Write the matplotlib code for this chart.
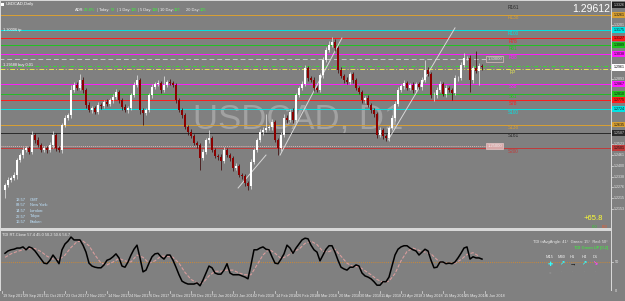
import numpy as np
import matplotlib.pyplot as plt
from matplotlib.patches import Rectangle
from matplotlib.transforms import blended_transform_factory

plt.rcParams['font.family'] = ['Liberation Sans', 'DejaVu Sans']

W, H = 625, 301
BG = '#808080'
X_SCALE = 611  # where the price scale starts

# USDCAD daily
first_open = 1.2261
closes = [
    1.2290, 1.2319, 1.2330, 1.2347, 1.2433, 1.2461, 1.2490, 1.2501, 1.2479, 1.2576,
    1.2547, 1.2518, 1.2490, 1.2501, 1.2490, 1.2518, 1.2576, 1.2501, 1.2490, 1.2633,
    1.2673, 1.2690, 1.2833, 1.2861, 1.2844, 1.2890, 1.2833, 1.2747, 1.2718, 1.2730,
    1.2707, 1.2747, 1.2741, 1.2764, 1.2753, 1.2775, 1.2793, 1.2821, 1.2775, 1.2735,
    1.2718, 1.2730, 1.2804, 1.2861, 1.2890, 1.2718, 1.2701, 1.2718, 1.2804, 1.2850,
    1.2867, 1.2872, 1.2833, 1.2861, 1.2878, 1.2872, 1.2861, 1.2775, 1.2718, 1.2690,
    1.2621, 1.2593, 1.2570, 1.2530, 1.2518, 1.2444, 1.2479, 1.2547, 1.2558, 1.2490,
    1.2456, 1.2450, 1.2427, 1.2490, 1.2461, 1.2444, 1.2387, 1.2399, 1.2347, 1.2341,
    1.2301, 1.2284, 1.2421, 1.2490, 1.2547, 1.2593, 1.2604, 1.2616, 1.2621, 1.2650,
    1.2547, 1.2501, 1.2576, 1.2673, 1.2661, 1.2707, 1.2661, 1.2804, 1.2844, 1.2867,
    1.2958, 1.2901, 1.2890, 1.2844, 1.2833, 1.2918, 1.3004, 1.3061, 1.3089, 1.3107,
    1.3072, 1.2947, 1.2912, 1.2890, 1.2878, 1.2924, 1.2890, 1.2844, 1.2821, 1.2775,
    1.2787, 1.2747, 1.2718, 1.2696, 1.2576, 1.2604, 1.2570, 1.2558, 1.2616, 1.2673,
    1.2753, 1.2833, 1.2855, 1.2872, 1.2844, 1.2861, 1.2833, 1.2867, 1.2850, 1.2890,
    1.2947, 1.2924, 1.2804, 1.2804, 1.2833, 1.2867, 1.2810, 1.2844, 1.2833, 1.2815,
    1.2901, 1.2901, 1.2975, 1.3015, 1.3015, 1.2890, 1.2958, 1.2941, 1.2970, 1.2961,
]
# wicks beyond the body, in pips
up_wick = [
    10, 14, 12, 18, 10, 12, 16, 10, 14, 25, 12, 15, 10, 14, 12, 16, 20, 12, 10, 12,
    14, 12, 30, 16, 18, 35, 14, 12, 16, 10, 12, 18, 14, 10, 16, 12, 14, 18, 12, 10,
    16, 12, 14, 18, 30, 12, 10, 14, 12, 16, 12, 18, 14, 50, 12, 16, 14, 10, 12, 14,
    12, 10, 16, 12, 14, 12, 18, 14, 45, 12, 14, 10, 16, 18, 14, 12, 10, 14, 12, 10,
    12, 14, 16, 12, 14, 18, 20, 80, 14, 16, 12, 14, 16, 20, 14, 18, 20, 14, 12, 16,
    20, 14, 12, 16, 14, 12, 18, 16, 25, 30, 16, 12, 14, 10, 18, 12, 14, 10, 12, 14,
    12, 16, 10, 14, 12, 16, 10, 14, 12, 16, 14, 18, 12, 16, 14, 12, 18, 14, 12, 16,
    55, 14, 12, 16, 14, 18, 12, 16, 14, 12, 16, 14, 18, 30, 14, 20, 14, 100, 16, 12,
]
dn_wick = [
    45, 12, 14, 10, 20, 12, 16, 14, 10, 14, 16, 12, 14, 10, 18, 12, 14, 16, 12, 15,
    12, 14, 16, 12, 10, 14, 18, 16, 12, 14, 14, 12, 16, 10, 14, 12, 16, 12, 14, 18,
    12, 16, 14, 10, 12, 20, 70, 14, 12, 16, 14, 12, 16, 14, 12, 10, 14, 16, 12, 18,
    14, 16, 12, 14, 16, 70, 14, 12, 16, 14, 12, 16, 50, 14, 12, 18, 16, 14, 12, 16,
    14, 20, 16, 12, 14, 10, 16, 14, 12, 16, 14, 40, 16, 12, 18, 14, 16, 12, 14, 12,
    14, 16, 12, 18, 14, 12, 16, 14, 12, 10, 14, 16, 12, 18, 14, 12, 16, 14, 12, 14,
    16, 12, 14, 18, 16, 14, 20, 16, 14, 12, 16, 14, 12, 18, 14, 12, 16, 14, 12, 16,
    14, 12, 18, 35, 16, 12, 14, 16, 14, 40, 12, 16, 14, 12, 14, 70, 16, 14, 80, 12,
]

# TDI sub window
tdi_rsi = [
    65, 69, 71, 72, 74, 74, 76, 71, 76, 74, 69, 62, 55, 48, 47, 53, 62, 55, 47, 71,
    81, 86, 93, 88, 88, 88, 79, 67, 48, 43, 41, 40, 40, 45, 53, 55, 59, 64, 57, 43,
    41, 50, 62, 72, 79, 57, 33, 36, 48, 59, 64, 65, 59, 55, 62, 62, 53, 41, 28, 17,
    14, 12, 12, 12, 14, 9, 19, 31, 43, 40, 31, 29, 29, 36, 47, 31, 28, 28, 28, 26,
    24, 21, 45, 71, 71, 74, 76, 72, 71, 59, 48, 47, 55, 64, 79, 74, 65, 74, 81, 88,
    91, 90, 79, 71, 67, 52, 62, 72, 78, 78, 67, 53, 41, 38, 36, 41, 41, 45, 43, 31,
    26, 24, 21, 16, 10, 10, 16, 16, 24, 43, 62, 72, 76, 78, 78, 74, 71, 69, 62, 67,
    72, 69, 53, 40, 41, 50, 50, 47, 48, 47, 50, 57, 65, 74, 76, 55, 59, 57, 57, 55,
]
# signal line, one value every second bar
tdi_signal = [
    58, 64, 68, 71, 73, 73, 68, 60, 55, 54, 62, 75, 85, 86, 78, 62, 48, 45, 50, 56,
    52, 50, 62, 58, 48, 52, 60, 60, 58, 48, 32, 20, 14, 14, 26, 34, 34, 36, 36, 31,
    28, 28, 45, 62, 72, 65, 56, 60, 68, 72, 82, 86, 80, 68, 68, 72, 60, 48, 42, 42,
    35, 28, 20, 15, 17, 30, 52, 68, 74, 70, 67, 64, 54, 48, 48, 48, 54, 63, 66, 60,
]

date_labels = [
    '19 Sep 2017', '29 Sep 2017', '11 Oct 2017', '23 Oct 2017', '2 Nov 2017',
    '14 Nov 2017', '24 Nov 2017', '6 Dec 2017', '18 Dec 2017', '29 Dec 2017',
    '11 Jan 2018', '23 Jan 2018', '2 Feb 2018', '14 Feb 2018', '26 Feb 2018',
    '8 Mar 2018', '20 Mar 2018', '30 Mar 2018', '11 Apr 2018', '23 Apr 2018',
    '3 May 2018', '15 May 2018', '25 May 2018', '6 Jun 2018',
]

# pivot levels
level_names = ['R138', 'R100', 'R78', 'R61', 'R38', 'PP', 'S38', 'S61', 'S78',
               'S100', 'S138', 'S161', 'S200']
level_prices = [1.3261, 1.3175, 1.3127, 1.3089, 1.3038, 1.2952, 1.2867, 1.2810,
                1.2775, 1.2724, 1.2635, 1.2587, 1.2501]
level_colors = ['#d9a032', '#00e5e5', '#ff1a1a', '#1fc41f', '#ff1aff', '#e6e64d',
                '#ff1aff', '#1fc41f', '#ff1a1a', '#00e5e5', '#d9a032', '#2a2a2a',
                '#c03a3a']

tick_prices = [1.3201, 1.2893, 1.2523, 1.2461, 1.2400, 1.2338, 1.2276, 1.2215,
               1.2153]

# trend lines (bar index, price)
trend_lines = [
    ([77.7, 87.0], [1.2273, 1.2461]),
    ([91.7, 112.3], [1.2461, 1.3129]),
    ([127.7, 150.0], [1.2547, 1.3187]),
]

fig = plt.figure(figsize=(W / 100, H / 100), dpi=100, facecolor=BG)


def box(x0, y0, x1, y1):
    return [x0 / W, 1 - y1 / H, (x1 - x0) / W, (y1 - y0) / H]


def fx(x):
    return x / W


def fy(y):
    return 1 - y / H


# ---- main window
ax = fig.add_axes(box(0, 1, X_SCALE, 228))
ax.set_facecolor(BG)
ax.set_xlim(-5 / 3, (X_SCALE - 5) / 3)
ax.set_ylim(1.20445, 1.33407)
ax.axis('off')

ax.text(fx(298), fy(119), 'USDCAD, D1', transform=fig.transFigure, fontsize=25,
        color='#a2a2a2', ha='center', va='center', zorder=0)

for name, p, c in zip(level_names, level_prices, level_colors):
    if name == 'PP':
        ax.axhline(p, color=c, lw=0.7, ls=(0, (5, 2, 1, 2)), zorder=1)
    else:
        ax.axhline(p, color=c, lw=0.7, zorder=1)
    ax.annotate(name, (513 / X_SCALE, p), xycoords=ax.get_yaxis_transform(),
                xytext=(0, -3), textcoords='offset pixels', fontsize=3.4,
                color=c, ha='center', va='center')
ax.text(513 / X_SCALE, 1.3301, 'R161', transform=ax.get_yaxis_transform(),
        fontsize=3.4, color='#2a2a2a', ha='center', va='center')

ax.axhline(1.2970, color='#33dd33', lw=0.7, ls=(0, (4, 2, 1, 2)), zorder=1)
ax.hlines(1.3010, -2, 161, color='#c8c8c8', lw=0.7, ls=(0, (5, 3)), zorder=1)
ax.hlines(1.2513, -2, 161, color='#e0b0b0', lw=0.7, ls=(0, (1, 1)), zorder=1)
ax.text(163.2, 1.3010, '1.30000', fontsize=3.0, color='#e8e8e8', ha='center',
        va='center', bbox=dict(boxstyle='square,pad=0.25', fc=BG, ec='#e0c0c0', lw=0.5))
ax.text(163.2, 1.2513, '1.25000', fontsize=3.0, color='#f0f0f0', ha='center',
        va='center', bbox=dict(boxstyle='square,pad=0.25', fc='#d8a8a8', ec='#e8c8c8', lw=0.5))

for xs, ps in trend_lines:
    ax.plot(xs, ps, color='#d8d8d8', lw=0.7, zorder=2)

opens = [first_open] + closes[:-1]
for i, (o, c) in enumerate(zip(opens, closes)):
    hi = max(o, c) + up_wick[i] * 0.0001
    lo = min(o, c) - dn_wick[i] * 0.0001
    bull = c >= o
    wick_c = '#e8e8e8' if bull else '#3a0000'
    body_c = '#ffffff' if bull else '#8b0000'
    ax.vlines(i, lo, hi, color=wick_c, lw=0.5, zorder=3)
    ax.bar(i, max(abs(c - o), 0.0001), bottom=min(o, c), width=0.55,
           color=body_c, lw=0, zorder=4)

# ---- price scale strip
axr = fig.add_axes(box(X_SCALE, 1, 625, 228))
axr.set_facecolor(BG)
axr.set_xlim(0, 1)
axr.set_ylim(ax.get_ylim())
axr.axis('off')
for t in tick_prices:
    axr.plot([0, 0.15], [t, t], color='#e0e0e0', lw=0.5)
    axr.text(0.2, t, f'{t:.4f}', fontsize=2.6, color='#e8e8e8', va='center',
             clip_on=True)
tag_h = 0.0032
for name, p, c in zip(level_names, level_prices, level_colors):
    if name == 'PP':
        continue  # hidden under the bid tag
    axr.add_patch(Rectangle((0.08, p - tag_h / 2), 0.92, tag_h, fc=c, ec='none'))
    axr.text(0.2, p, f'{p:.4f}', fontsize=2.6, va='center', clip_on=True,
             color='#101010' if c != '#2a2a2a' else '#d0d0d0')
axr.add_patch(Rectangle((0.08, 1.2958 - tag_h / 2), 0.92, tag_h * 1.3, fc='white', ec='none'))
axr.text(0.2, 1.2961, '1.2961', fontsize=2.6, color='black', va='center', clip_on=True)
axr.add_patch(Rectangle((0.08, 1.3318 - tag_h / 2), 0.92, tag_h, fc='#202020', ec='none'))
axr.text(0.2, 1.3318, '1.3326', fontsize=2.6, color='#d0d0d0', va='center', clip_on=True)

# ---- TDI window
axs = fig.add_axes(box(0, 231, X_SCALE, 291))
axs.set_facecolor(BG)
axs.set_xlim(ax.get_xlim())
axs.set_ylim(0, 103.4)
axs.axis('off')
axs.axhline(50, color='#e08a20', lw=0.6, ls=(0, (1, 1.5)))
axs.plot(range(0, len(closes), 2), tdi_signal, color='#d89c9c', lw=0.8, ls=(0, (3, 1.5)))
axs.plot(range(len(tdi_rsi)), tdi_rsi, color='black', lw=1.1)

axs2 = fig.add_axes(box(X_SCALE, 231, 625, 291))
axs2.set_facecolor(BG)
axs2.set_xlim(0, 1)
axs2.set_ylim(0, 103.4)
axs2.axis('off')
for v in [50, 0]:
    axs2.plot([0, 0.15], [v, v], color='#e0e0e0', lw=0.5)
    axs2.text(0.25, v, str(v), fontsize=2.8, color='#e8e8e8', va='center')

# date scale
tr = blended_transform_factory(axs.transData, fig.transFigure)
for k, lab in enumerate(date_labels):
    xi = -1 + 7 * k
    axs.plot([xi, xi], [fy(291), fy(293)], color='#e0e0e0', lw=0.5, transform=tr, clip_on=False)
    axs.text(xi + 0.3, fy(296), lab, transform=tr, fontsize=2.7, color='#ececec',
             ha='left', va='center', clip_on=False)

# frame lines
for (x0, y0, x1, y1) in [(0, 0, 625, 1.2), (0, 228, X_SCALE, 231),
                         (X_SCALE, 0, X_SCALE + 1, 291),
                         (0, 290.5, 625, 291.3), (0, 0, 1, 291)]:
    fig.patches.append(Rectangle((fx(x0), fy(y1)), (x1 - x0) / W, (y1 - y0) / H,
                                 transform=fig.transFigure, fc='#d8d8d8', ec='none'))

# ---- texts
fig.patches.append(Rectangle((fx(1), fy(6)), 3 / W, 3 / H, transform=fig.transFigure,
                             fc='white', ec='none'))
fig.text(fx(6), fy(4.5), 'USDCAD,Daily', fontsize=3.0, color='white', va='center')

adr = [('ADR:', 75, '#f0f0f0'), ('20.4%', 84, '#33ff33'), ('|', 96.5, '#d0d0d0'),
       ('Today:', 99, '#f0f0f0'), ('52', 111, '#33ff33'), ('|', 116.5, '#d0d0d0'),
       ('1 Day:', 119, '#f0f0f0'), ('115', 131, '#33ff33'), ('|', 137.5, '#d0d0d0'),
       ('5 Day:', 140, '#f0f0f0'), ('118', 152, '#33ff33'), ('|', 157.5, '#d0d0d0'),
       ('10 Day:', 160, '#f0f0f0'), ('117', 173.5, '#33ff33'),
       ('20 Day:', 186, '#f0f0f0'), ('105', 200, '#33ff33')]
for s, x, c in adr:
    fig.text(fx(x), fy(10), s, fontsize=2.9, color=c, va='center')

fig.text(fx(572), fy(9.5), '1.29612', fontsize=7.5, color='white', ha='left', va='center')

fig.text(fx(3), fy(30), '1.30006 tp', fontsize=2.8, color='white', va='center')
fig.text(fx(3), fy(65), '1.29588 buy 0.01', fontsize=2.8, color='white', va='center')

clock = [('13:57', 'GMT'), ('09:57', 'New York:'), ('14:57', 'London:'),
         ('22:57', 'Tokyo:'), ('16:57', 'Broker:')]
for k, (t, lab) in enumerate(clock):
    yy = 200 + 5.5 * k
    fig.text(fx(16), fy(yy), t, fontsize=2.9, color='#bfe4ff', va='center')
    fig.text(fx(30), fy(yy), lab, fontsize=2.9, color='#bfe4ff', va='center')

fig.text(fx(603), fy(219), '+65.8', fontsize=5.5, color='#ffff33', ha='right', va='center')
fig.text(fx(592), fy(227), '0.0', fontsize=3.0, color='#33cc33', va='center')
fig.text(fx(602), fy(227), '0.0', fontsize=3.0, color='#ff5522', va='center')

fig.text(fx(2), fy(235), 'TDI RT-Clone 57.4 45.0 50.2 50.6 54.7', fontsize=2.9,
         color='#f0f0f0', va='center')
fig.text(fx(608), fy(242), 'TDI trAvgAngle: 41°  Green: 15°  Red: 50°', fontsize=2.9,
         color='#e8e8e8', ha='right', va='center')
fig.text(fx(608), fy(248), 'TDI Green UP [0.2]', fontsize=2.9, color='#33ff33',
         ha='right', va='center')
tf_labels = ['M15', 'M30', 'H1', 'H4', 'D1']
tf_arrows = ['✚', '↗', '→', '↗', '↘']
tf_colors = ['#33ffff', '#33ffff', '#000000', '#33ffff', '#ff44ff']
for k, (lab, arr, c) in enumerate(zip(tf_labels, tf_arrows, tf_colors)):
    x = 550 + 11.3 * k
    fig.text(fx(x), fy(257), lab, fontsize=2.9, color='#f0f0f0', ha='center', va='center')
    fig.text(fx(x), fy(264), arr, fontsize=4.5, color=c, ha='center', va='center',
             fontweight='bold')
    fig.text(fx(x), fy(272), '○' if k == 0 else '·', fontsize=3.2, color='#9a9a9a',
             ha='center', va='center')

fig.savefig('out.png', dpi=100, facecolor=BG)
